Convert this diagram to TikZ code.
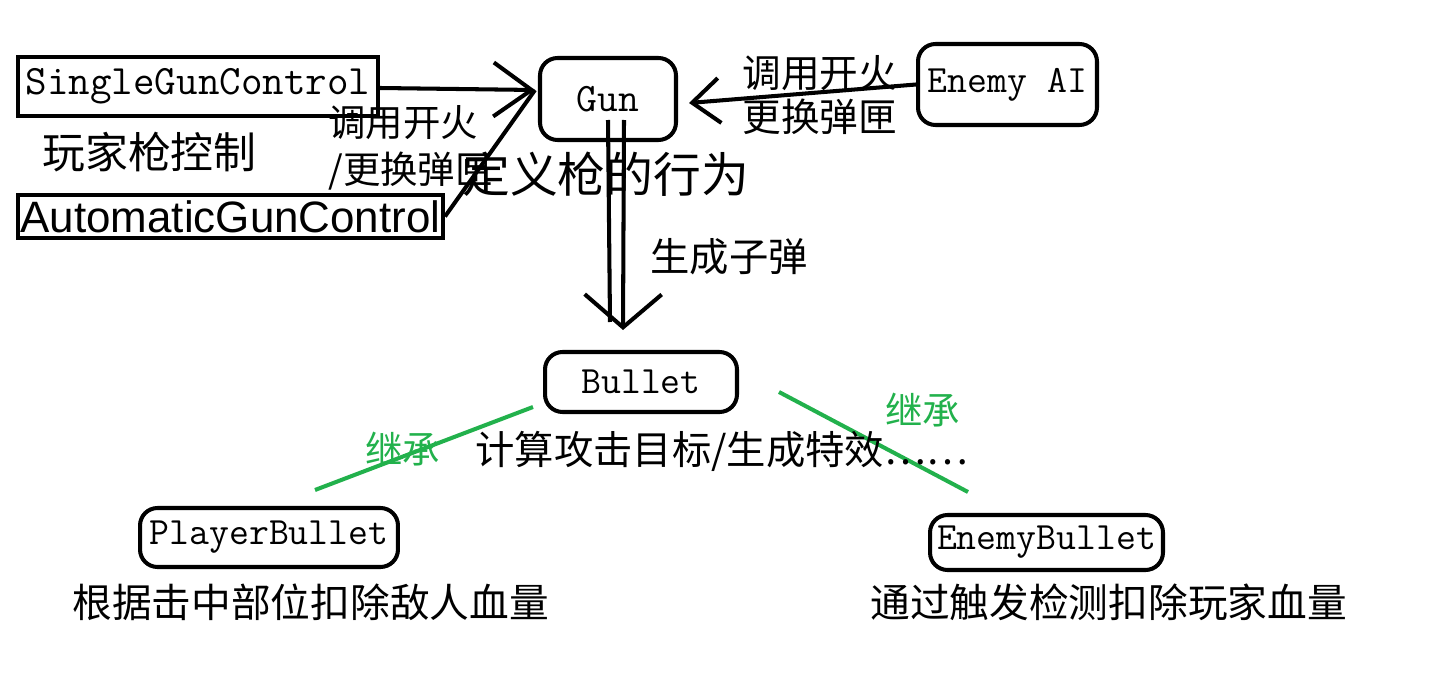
\documentclass[tikz,border=0pt]{standalone}
\usepackage{fontspec}
\newfontfamily\cjk{Noto Sans CJK SC}
\newfontfamily\autofont{Liberation Sans}
\usetikzlibrary{arrows.meta}
\definecolor{inhgreen}{RGB}{34,177,76}

\begin{document}
\begin{tikzpicture}[x=0.02cm,y=-0.02cm,
	pen/.style={line width=2.3pt},
	sqbox/.style={draw,line width=2.3pt,inner sep=0pt},
	rbox/.style={draw,line width=2.3pt,rounded corners=0.35cm,inner sep=0pt,
		font=\fontsize{22}{22}\selectfont\ttfamily},
	note/.style={anchor=west,inner sep=0pt,align=left},
	inh/.style={line width=2.3pt,inhgreen}
	]
	\useasboundingbox (0,0) rectangle (1434,696);
	
	% Controllers on the left
	\node[sqbox,minimum width=7.2cm,minimum height=1.18cm,
	font=\fontsize{23.8}{23.8}\selectfont\ttfamily] (single) at (198,86.5) {SingleGunControl};
	\node[sqbox,minimum width=8.5cm,minimum height=0.86cm,
	font=\fontsize{25}{25}\selectfont\autofont] (auto) at (230.5,216.5) {AutomaticGunControl};
	\node[note,font=\fontsize{24.4}{24.4}\selectfont\cjk] (playerctl) at (42,152) {玩家枪控制};
	
	% Gun and the enemy AI
	\node[rbox,minimum width=2.72cm,minimum height=1.64cm,
	font=\fontsize{23}{23}\selectfont\ttfamily] (gun) at (608,99) {Gun};
	\node[rbox,minimum width=3.58cm,minimum height=1.62cm] (enemyai) at (1007.5,84.5) {Enemy AI};
	
	% Calls into the gun
	\coordinate (gunin) at (535,90);
	\coordinate (gunright) at (689,103);
	\draw[pen,-{Straight Barb[length=0.76cm,width=1.08cm]}] (single.east |- 0,88) -- (gunin);
	\draw[pen] (auto.east) -- (gunin);
	\draw[pen,-{Straight Barb[length=0.55cm,width=0.9cm]}] (enemyai.west) -- (gunright);
	
	\node[note,font=\fontsize{21.3}{27}\selectfont\cjk] (fireL) at (328,148) {调用开火\\/更换弹匣};
	\node[note,font=\fontsize{27.2}{27.2}\selectfont\cjk] (gundef) at (462,174) {定义枪的行为};
	\node[note,font=\fontsize{22}{25.5}\selectfont\cjk] (fireR) at (742,95) {调用开火\\更换弹匣};
	
	% Gun spawns the bullet
	\node[rbox,minimum width=3.84cm,minimum height=1.2cm] (bullet) at (641,382) {Bullet\hspace{0.2cm}};
	\coordinate (g1) at (608,120);
	\coordinate (g2) at (624,120);
	\coordinate (shot) at (623,330);
	\draw[pen] (g1) -- (610,322);
	\draw[pen,-{Straight Barb[length=0.66cm,width=1.54cm]}] (g2) -- (shot);
	\node[note,font=\fontsize{22.4}{22.4}\selectfont\cjk] (spawn) at (650,257) {生成子弹};
	
	% Subclasses
	\node[rbox,minimum width=5.16cm,minimum height=1.18cm] (player) at (269,537.5) {PlayerBullet};
	\node[rbox,minimum width=4.66cm,minimum height=1.1cm] (enemyb) at (1046.5,542.5) {EnemyBullet};
	
	\coordinate (inhL1) at (533,407);
	\coordinate (inhL2) at (315,490);
	\coordinate (inhR1) at (779,392);
	\coordinate (inhR2) at (968,492);
	\draw[inh] (inhL1) -- (inhL2);
	\draw[inh] (inhR1) -- (inhR2);
	\node[note,text=inhgreen,font=\fontsize{21.3}{21.3}\selectfont\cjk] (inhtxtL) at (365,449) {继承};
	\node[note,text=inhgreen,font=\fontsize{21.3}{21.3}\selectfont\cjk] (inhtxtR) at (885,410) {继承};
	
	\node[note,font=\fontsize{22.4}{22.4}\selectfont\cjk] (bulletjob) at (475,451) {计算攻击目标/生成特效……};
	\node[note,font=\fontsize{22.6}{22.6}\selectfont\cjk] (playerjob) at (72,602) {根据击中部位扣除敌人血量};
	\node[note,font=\fontsize{22.6}{22.6}\selectfont\cjk] (enemyjob) at (870,602) {通过触发检测扣除玩家血量};
\end{tikzpicture}
\end{document}
